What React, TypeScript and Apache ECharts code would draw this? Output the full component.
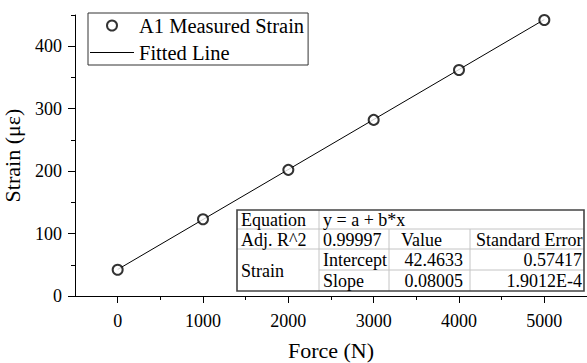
import React, { useEffect, useRef } from "react";
import * as echarts from "echarts";

const forceN = [0, 1000, 2000, 3000, 4000, 5000];
const strainMeasured = [42, 123, 202, 282, 362, 442];
const fitLine = [
  [0, 42.46],
  [5000, 442.73],
];
const xMajorTicks = [0, 1000, 2000, 3000, 4000, 5000];
const xMinorTicks = [500, 1500, 2500, 3500, 4500, 5500];
const yMajorTicks = [0, 100, 200, 300, 400];
const yMinorTicks = [50, 150, 250, 350, 450];
const tableRows = [
  ["Equation", "y = a + b*x", "", ""],
  ["Adj. R^2", "0.99997", "Value", "Standard Error"],
  ["Strain", "Intercept", "42.4633", "0.57417"],
  ["", "Slope", "0.08005", "1.9012E-4"],
];

const FONT = "Liberation Serif";

export default function App() {
  const ref = useRef<HTMLDivElement>(null);
  useEffect(() => {
    if (!ref.current) return;
    const chart = echarts.init(ref.current, null, { renderer: "svg" });

    const colX = [237, 319, 389, 470, 584];
    const rowY = [210, 229, 249, 270, 291];
    const els: any[] = [];
    els.push({
      type: "rect",
      shape: { x: colX[0], y: rowY[0], width: colX[4] - colX[0], height: rowY[4] - rowY[0] },
      style: { fill: "#fff", stroke: "none" },
      z: 100,
    });
    const inner = "#c4c4c4";
    [1, 2].forEach((r) =>
      els.push({ type: "line", shape: { x1: colX[0], y1: rowY[r], x2: colX[4], y2: rowY[r] }, style: { stroke: inner, lineWidth: 1 }, z: 101 })
    );
    els.push({ type: "line", shape: { x1: colX[1], y1: rowY[3], x2: colX[4], y2: rowY[3] }, style: { stroke: inner, lineWidth: 1 }, z: 101 });
    els.push({ type: "line", shape: { x1: colX[1], y1: rowY[0], x2: colX[1], y2: rowY[4] }, style: { stroke: inner, lineWidth: 1 }, z: 101 });
    [2, 3].forEach((c) =>
      els.push({ type: "line", shape: { x1: colX[c], y1: rowY[1], x2: colX[c], y2: rowY[4] }, style: { stroke: inner, lineWidth: 1 }, z: 101 })
    );
    els.push({
      type: "rect",
      shape: { x: colX[0], y: rowY[0], width: colX[4] - colX[0], height: rowY[4] - rowY[0] },
      style: { fill: "none", stroke: "#444", lineWidth: 1.6 },
      z: 102,
    });
    const txt = (s: string, x: number, y: number, align: string) => ({
      type: "text",
      x,
      y,
      z: 103,
      style: { text: s, fill: "#000", fontFamily: FONT, fontSize: 18, align, verticalAlign: "middle" },
    });
    const rc = (r: number) => (rowY[r] + rowY[r + 1]) / 2 + 0.5;
    els.push(txt(tableRows[0][0], 241, rc(0), "left"));
    els.push(txt(tableRows[0][1], 323, rc(0), "left"));
    els.push(txt(tableRows[1][0], 241, rc(1), "left"));
    els.push(txt(tableRows[1][1], 323, rc(1), "left"));
    els.push(txt(tableRows[1][2], 401, rc(1), "left"));
    els.push(txt(tableRows[1][3], 476, rc(1), "left"));
    els.push(txt(tableRows[2][0], 241, (rowY[2] + rowY[4]) / 2 + 0.5, "left"));
    els.push(txt(tableRows[2][1], 323, rc(2), "left"));
    els.push(txt(tableRows[2][2], 463, rc(2), "right"));
    els.push(txt(tableRows[2][3], 582, rc(2), "right"));
    els.push(txt(tableRows[3][1], 323, rc(3), "left"));
    els.push(txt(tableRows[3][2], 463, rc(3), "right"));
    els.push(txt(tableRows[3][3], 582, rc(3), "right"));

    const axisCommon = {
      type: "value",
      axisLine: { show: false, onZero: false },
      splitLine: { show: false },
      axisLabel: { show: false },
    };

    chart.setOption({
      animation: false,
      textStyle: { fontFamily: FONT },
      grid: { left: 75, right: 0, top: 15, bottom: 67, containLabel: false, outerBoundsMode: "none" },
      legend: {
        orient: "vertical",
        left: 88,
        top: 13,
        padding: [2, 4, 2, 2],
        itemGap: 6,
        itemWidth: 44,
        itemHeight: 10,
        borderColor: "#333",
        borderWidth: 1,
        backgroundColor: "#fff",
        textStyle: { fontFamily: FONT, fontSize: 20.5, color: "#000", lineHeight: 20 },
        data: [
          { name: "A1 Measured Strain", icon: "emptyCircle" },
          { name: "Fitted Line", icon: "path://M0,0 H44 V1 H0 Z" },
        ],
      },
      xAxis: [
        {
          type: "value",
          min: -500,
          max: 5500,
          name: "Force (N)",
          nameLocation: "middle",
          nameGap: 43,
          nameTextStyle: { fontFamily: FONT, fontSize: 22, color: "#000" },
          axisLine: { show: true, onZero: false, lineStyle: { color: "#000", width: 1 } },
          axisTick: { show: true, inside: false, length: 7, customValues: xMajorTicks, lineStyle: { color: "#000" } },
          axisLabel: {
            show: true,
            customValues: xMajorTicks,
            margin: 16,
            fontFamily: FONT,
            fontSize: 18,
            color: "#000",
            formatter: (v: number) => String(v),
          },
          splitLine: { show: false },
        },
        {
          ...axisCommon,
          min: -500,
          max: 5500,
          position: "bottom",
          axisTick: { show: true, length: 4, customValues: xMinorTicks, lineStyle: { color: "#000" } },
        },
      ],
      yAxis: [
        {
          type: "value",
          min: 0,
          max: 450,
          name: "Strain (με)",
          nameLocation: "middle",
          nameGap: 52,
          nameTextStyle: { fontFamily: FONT, fontSize: 22, color: "#000" },
          axisLine: { show: true, onZero: false, lineStyle: { color: "#000", width: 1 } },
          axisTick: { show: true, inside: false, length: 7, customValues: yMajorTicks, lineStyle: { color: "#000" } },
          axisLabel: {
            show: true,
            customValues: yMajorTicks,
            margin: 13,
            fontFamily: FONT,
            fontSize: 18,
            color: "#000",
            formatter: (v: number) => String(v),
          },
          splitLine: { show: false },
        },
        {
          ...axisCommon,
          min: 0,
          max: 450,
          position: "left",
          axisTick: { show: true, length: 4, customValues: yMinorTicks, lineStyle: { color: "#000" } },
        },
      ],
      series: [
        {
          name: "A1 Measured Strain",
          type: "scatter",
          symbol: "emptyCircle",
          symbolSize: 10,
          itemStyle: { color: "#000", borderColor: "#000", borderWidth: 1 },
          data: forceN.map((f, i) => [f, strainMeasured[i]]),
          z: 3,
        },
        {
          name: "Fitted Line",
          type: "line",
          symbol: "none",
          lineStyle: { color: "#000", width: 1 },
          itemStyle: { color: "#000" },
          data: fitLine,
          z: 2,
        },
      ],
      graphic: els,
    });
    return () => chart.dispose();
  }, []);
  return <div ref={ref} style={{ width: 587, height: 363, position: "absolute", left: 0, top: 0 }} />;
}
